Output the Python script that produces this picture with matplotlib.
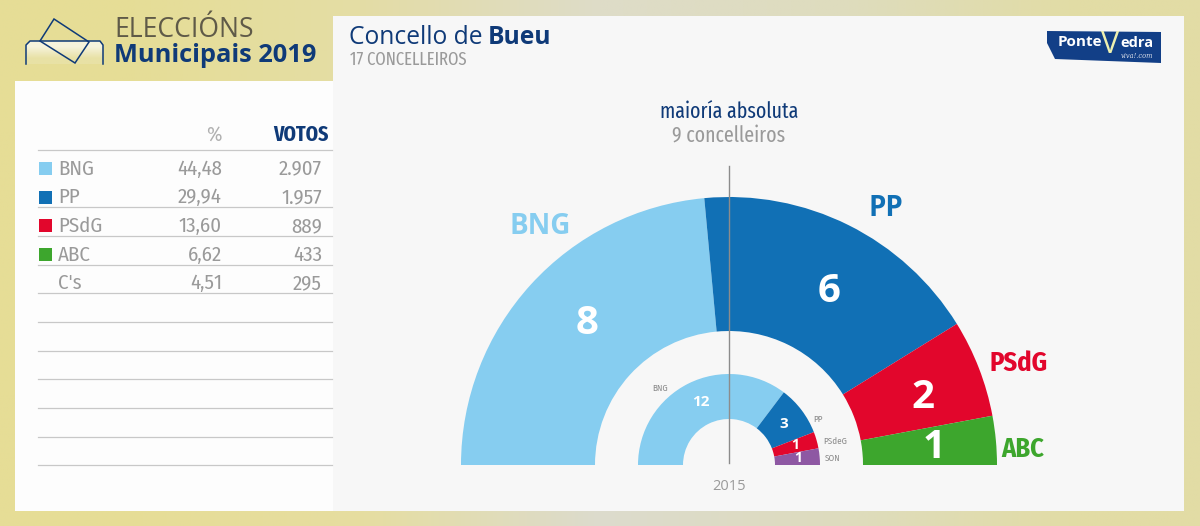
import matplotlib
matplotlib.use("Agg")
import logging
import matplotlib.pyplot as plt
import numpy as np
from matplotlib.patches import Wedge, Rectangle, Polygon

logging.getLogger("matplotlib.font_manager").setLevel(logging.ERROR)

# datos
parties = ["BNG", "PP", "PSdG", "ABC", "C's"]
percent = ["44,48", "29,94", "13,60", "6,62", "4,51"]
votes = ["2.907", "1.957", "889", "433", "295"]

seats_2019 = [8, 6, 2, 1]
labels_2019 = ["BNG", "PP", "PSdG", "ABC"]
seats_2015 = [12, 3, 1, 1]
labels_2015 = ["BNG", "PP", "PSdeG", "SON"]

LIGHT = "#86cdf0"
BLUE = "#1170b5"
RED = "#e2062c"
GREEN = "#3da62d"
PURPLE = "#8e58a3"
NAVY = "#0f3a78"
GREY = "#9a9a9a"
LINE = "#c8c8c8"

colors_2019 = [LIGHT, BLUE, RED, GREEN]
colors_2015 = [LIGHT, BLUE, RED, PURPLE]
swatches = [LIGHT, BLUE, RED, GREEN, None]

NARROW = ["Fira Sans Condensed", "Roboto Condensed", "Liberation Sans Narrow", "Liberation Sans", "DejaVu Sans"]
XNARROW = ["Fira Sans Extra Condensed"] + NARROW
WIDE = ["Open Sans", "DejaVu Sans"]

fig = plt.figure(figsize=(12, 5.26), dpi=100)
ax = fig.add_axes([0, 0, 1, 1])

# fondo con degradado
bg = np.array([
    [[230, 221, 150], [228, 221, 165], [222, 220, 200], [222, 220, 190], [226, 220, 165]],
    [[230, 221, 150], [230, 222, 160], [220, 219, 205], [222, 220, 190], [226, 220, 165]],
], dtype=float) / 255
ax.imshow(bg, extent=(0, 1200, 526, 0), aspect="auto", interpolation="bilinear", zorder=0)
ax.set_xlim(0, 1200)
ax.set_ylim(526, 0)  # coordenadas en pixeles, y hacia abajo
ax.axis("off")

# paneles
ax.add_patch(Rectangle((333, 16), 851, 495, fc="#f7f7f7", ec="none", zorder=1))
ax.add_patch(Rectangle((15, 81), 318, 430, fc="#fdfdfd", ec="none", zorder=1))

# cabecera: icono
box_x = [26, 26, 30, 100, 103, 103]
box_y = [64, 45, 41, 41, 45, 64]
shade = np.array([[[246, 243, 220]], [[232, 225, 165]]], dtype=float) / 255
im = ax.imshow(shade, extent=(26, 103, 64, 41), aspect="auto", interpolation="bilinear", zorder=2)
im.set_clip_path(Polygon(list(zip(box_x, box_y)), closed=True, transform=ax.transData))
ax.set_xlim(0, 1200)
ax.set_ylim(526, 0)
ax.plot(box_x, box_y, color=NAVY, lw=1.1, zorder=3)
ax.add_patch(Polygon([(54, 19), (89, 42), (75, 63), (40, 41)], closed=True,
                     fc="none", ec=NAVY, lw=1.1, zorder=3))

ax.text(114, 30, "ELECCIÓNS", family=WIDE, fontsize=19.1, color="#5f5a48",
        ha="left", va="center", zorder=4)
ax.text(114, 55, "Municipais 2019", family=WIDE, fontsize=18.3, fontweight="bold",
        color=NAVY, ha="left", va="center", zorder=4)

ax.text(349, 37, "Concello de", family=WIDE, fontsize=17.7, color=NAVY,
        ha="left", va="center", zorder=4)
ax.text(488, 37, "Bueu", family=WIDE, fontsize=17.7, fontweight="bold", color=NAVY,
        ha="left", va="center", zorder=4)
ax.text(350, 60, "17 CONCELLEIROS", family=XNARROW, fontsize=13, color=GREY,
        ha="left", va="center", zorder=4)

# logo
ax.add_patch(Polygon([(1047, 31), (1161, 32), (1161, 63), (1055, 59), (1047, 43)], closed=True,
                     fc="#123f87", ec="none", zorder=2))
ax.text(1058, 42, "Ponte", family=WIDE, fontsize=11, fontweight="bold", color="white",
        ha="left", va="center", zorder=4)
ax.text(1110, 45, "V", family=WIDE, fontsize=22, color="#eef0b0", ha="center", va="center", zorder=4)
ax.text(1120, 43, "edra", family=WIDE, fontsize=10.5, fontweight="bold", color="white",
        ha="left", va="center", zorder=4)
ax.text(1137, 56, "viva!.com", family="DejaVu Serif", fontsize=4.8, style="italic", color="#d8dde8",
        ha="center", va="center", zorder=4)

# tabla
ax.text(222, 135, "%", family=NARROW, fontsize=15, color="#b0b0b0", ha="right", va="center", zorder=4)
ax.text(329, 135, "VOTOS", family=XNARROW, fontsize=15.5, fontweight="bold", color=NAVY,
        ha="right", va="center", zorder=4)

row_y = 169
row_h = 28.6
for i, name in enumerate(parties):
    y = row_y + i * row_h
    if swatches[i]:
        ax.add_patch(Rectangle((38.5, y - 7), 13.5, 13, fc=swatches[i], ec="none", zorder=3))
    ax.text(58, y, name, family=NARROW, fontsize=15, color=GREY, ha="left", va="center", zorder=4)
    ax.text(222, y, percent[i], family=NARROW, fontsize=15, color=GREY, ha="right", va="center", zorder=4)
    ax.text(322, y, votes[i], family=NARROW, fontsize=15, color=GREY, ha="right", va="center", zorder=4)

for y in [150, 207, 236, 265, 293, 322, 351, 379, 408, 437, 465]:
    ax.plot([38, 332], [y, y], color=LINE, lw=0.9, zorder=3)


def draw_arc(seats, colors, outer, inner, cx=729, cy=465):
    # cada concelleiro ocupa a mesma fraccion do semicirculo
    step = 180 / sum(seats)
    start = 180
    for n, c in zip(seats, colors):
        end = start + n * step
        ax.add_patch(Wedge((cx, cy), outer, start, end, width=outer - inner,
                           fc=c, ec="none", zorder=3))
        start = end


draw_arc(seats_2019, colors_2019, 268, 134)
draw_arc(seats_2015, colors_2015, 91, 46)

# linea central
ax.plot([729, 729], [166, 463], color="#8c8c8c", lw=1.0, zorder=5)

ax.text(729, 112, "maioría absoluta", family=XNARROW, fontsize=15.5, color=NAVY,
        ha="center", va="center", zorder=6)
ax.text(729, 136, "9 concelleiros", family=XNARROW, fontsize=15.5, color=GREY,
        ha="center", va="center", zorder=6)
ax.text(729, 486, "2015", family=WIDE, fontsize=10.5, color=GREY, ha="center", va="center", zorder=6)

# numeros del arco grande
big_pos = [(587, 323), (829, 291), (923, 398), (934, 447)]
for n, (x, y) in zip(seats_2019, big_pos):
    ax.text(x, y, str(n), family=WIDE, fontsize=29, fontweight="bold", color="white",
            ha="center", va="center", zorder=6)

# etiquetas del arco grande
big_labels = [(540, 227, 20), (886, 208, 20), (1019, 363, 19), (1023, 449, 19)]
for name, c, (x, y, s) in zip(labels_2019, colors_2019, big_labels):
    ax.text(x, y, name, family=WIDE if s == 20 else NARROW, fontsize=s, fontweight="bold",
            color=c, ha="center", va="center", zorder=6)

# numeros del arco pequeno
small_pos = [(701, 402, 11), (784, 424, 11), (795, 445, 10), (798, 458, 10)]
for n, (x, y, s) in zip(seats_2015, small_pos):
    ax.text(x, y, str(n), family=WIDE, fontsize=s, fontweight="bold", color="white",
            ha="center", va="center", zorder=6)

small_labels = [(660, 388), (818, 419), (835, 441), (833, 458)]
for name, (x, y) in zip(labels_2015, small_labels):
    ax.text(x, y, name, family=NARROW, fontsize=6.5, color="#8a8a8a", ha="center", va="center", zorder=6)

fig.savefig("out.png", dpi=100)
plt.close(fig)
